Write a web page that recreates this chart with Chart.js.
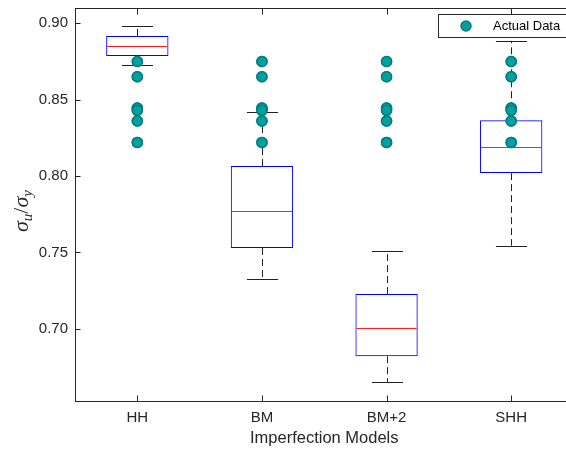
<!DOCTYPE html>
<html>
<head>
<meta charset="utf-8">
<script src="https://cdn.jsdelivr.net/npm/chart.js@4.4.1/dist/chart.umd.min.js"></script>
<style>
  html, body { margin: 0; padding: 0; background: #fff; overflow: hidden; }
  #wrap { width: 580px; height: 450px; }
</style>
</head>
<body>
<div id="wrap"><canvas id="boxChart" width="580" height="450"></canvas></div>
<script>
// imperfection models on the x axis
const categories = ['HH', 'BM', 'BM+2', 'SHH'];

// box plot stats
const q1 = [0.8785, 0.7529, 0.6820, 0.8019];
const q3 = [0.8917, 0.8065, 0.7227, 0.8365];
const medians = [0.8852, 0.7773, 0.7008, 0.8193];
const whiskerLow = [0.8726, 0.7327, 0.6650, 0.7544];
const whiskerHigh = [0.8980, 0.8421, 0.7507, 0.8885];

// measured values, same set shown at every model
const actualData = [0.875, 0.865, 0.8445, 0.8430, 0.836, 0.822];

const yTicks = [0.70, 0.75, 0.80, 0.85, 0.90];

const textColor = '#262626';
const fontFam = '"Liberation Sans", Arial, sans-serif';

let pointData = [];
for (var i = 0; i < categories.length; i++) {
    for (var j = 0; j < actualData.length; j++) {
        pointData.push({ x: categories[i], y: actualData[j] });
    }
}

// whiskers, caps, medians, frame, inward ticks, legend and y title
const boxExtras = {
    id: 'boxExtras',
    beforeDatasetsDraw(chart) {
        const ctx = chart.ctx;
        const xs = chart.scales.x;
        const ys = chart.scales.y;
        const halfBox = xs.width / categories.length * 0.25;
        const halfCap = halfBox / 2;
        ctx.save();
        for (var i = 0; i < categories.length; i++) {
            const cx = Math.round(xs.getPixelForValue(i)) + 0.5;
            // dashed whiskers
            ctx.strokeStyle = '#222';
            ctx.lineWidth = 1;
            ctx.setLineDash([7, 4]);
            ctx.beginPath();
            ctx.moveTo(cx, ys.getPixelForValue(q3[i]));
            ctx.lineTo(cx, ys.getPixelForValue(whiskerHigh[i]));
            ctx.moveTo(cx, ys.getPixelForValue(q1[i]));
            ctx.lineTo(cx, ys.getPixelForValue(whiskerLow[i]));
            ctx.stroke();
            // caps
            ctx.setLineDash([]);
            ctx.beginPath();
            const yh = Math.round(ys.getPixelForValue(whiskerHigh[i])) + 0.5;
            const yl = Math.round(ys.getPixelForValue(whiskerLow[i])) + 0.5;
            ctx.moveTo(cx - halfCap, yh);
            ctx.lineTo(cx + halfCap, yh);
            ctx.moveTo(cx - halfCap, yl);
            ctx.lineTo(cx + halfCap, yl);
            ctx.stroke();
        }
        ctx.restore();
    },
    afterDatasetsDraw(chart) {
        const ctx = chart.ctx;
        const xs = chart.scales.x;
        const ys = chart.scales.y;
        const halfBox = xs.width / categories.length * 0.25;
        ctx.save();
        ctx.strokeStyle = '#ff2020';
        ctx.lineWidth = 1;
        ctx.setLineDash([]);
        for (var i = 0; i < categories.length; i++) {
            const cx = xs.getPixelForValue(i);
            const ym = Math.round(ys.getPixelForValue(medians[i])) + 0.5;
            ctx.beginPath();
            ctx.moveTo(cx - halfBox + 1, ym);
            ctx.lineTo(cx + halfBox - 1, ym);
            ctx.stroke();
        }
        ctx.restore();
        // redraw points so they sit above medians
        chart.getDatasetMeta(0).controller.draw();
    },
    afterDraw(chart) {
        const ctx = chart.ctx;
        const area = chart.chartArea;
        const xs = chart.scales.x;
        const ys = chart.scales.y;
        ctx.save();
        ctx.strokeStyle = textColor;
        ctx.lineWidth = 1;
        const L = Math.round(area.left) + 0.5;
        const R = Math.round(area.right) + 0.5;
        const T = Math.round(area.top) + 0.5;
        const B = Math.round(area.bottom) + 0.5;
        ctx.strokeRect(L, T, R - L, B - T);
        ctx.beginPath();
        for (var i = 0; i < yTicks.length; i++) {
            const y = Math.round(ys.getPixelForValue(yTicks[i])) + 0.5;
            ctx.moveTo(L, y); ctx.lineTo(L + 5, y);
            ctx.moveTo(R, y); ctx.lineTo(R - 5, y);
        }
        for (var i = 0; i < categories.length; i++) {
            const x = Math.round(xs.getPixelForValue(i)) + 0.5;
            ctx.moveTo(x, B); ctx.lineTo(x, B - 6);
            ctx.moveTo(x, T); ctx.lineTo(x, T + 6);
        }
        ctx.stroke();

        // legend box
        const lx = 438.5, ly = 14.5, lw = 134, lh = 23;
        ctx.fillStyle = '#fff';
        ctx.fillRect(lx, ly, lw, lh);
        ctx.strokeStyle = '#262626';
        ctx.strokeRect(lx, ly, lw, lh);
        const ds = chart.data.datasets[0];
        ctx.beginPath();
        ctx.arc(466, 26, 5, 0, Math.PI * 2);
        ctx.fillStyle = ds.backgroundColor;
        ctx.fill();
        ctx.lineWidth = 1.5;
        ctx.strokeStyle = ds.borderColor;
        ctx.stroke();
        ctx.fillStyle = '#000';
        ctx.font = '13px ' + fontFam;
        ctx.textBaseline = 'middle';
        ctx.textAlign = 'left';
        ctx.fillText(ds.label, 493, 26.5);

        // y title  sigma_u / sigma_y
        const big = 'italic 22px "Liberation Serif", serif';
        const small = 'italic 15px "Liberation Serif", serif';
        const up = '22px "Liberation Serif", serif';
        const parts = [
            { t: '\u03C3', f: big, dy: 0 },
            { t: 'u', f: small, dy: 4 },
            { t: '/', f: up, dy: 0 },
            { t: '\u03C3', f: big, dy: 0 },
            { t: 'y', f: small, dy: 4 }
        ];
        let total = 0;
        parts.forEach(function (p) { ctx.font = p.f; p.w = ctx.measureText(p.t).width; total += p.w; });
        ctx.translate(28, 211);
        ctx.rotate(-Math.PI / 2);
        ctx.fillStyle = textColor;
        ctx.textBaseline = 'alphabetic';
        let px = -total / 2;
        parts.forEach(function (p) {
            ctx.font = p.f;
            ctx.fillText(p.t, px, p.dy);
            px += p.w;
        });
        ctx.restore();
    }
};

new Chart(document.getElementById('boxChart'), {
    data: {
        labels: categories,
        datasets: [
            {
                type: 'line',
                label: 'Actual Data',
                data: pointData,
                showLine: false,
                pointRadius: 5,
                pointHoverRadius: 5,
                pointBorderWidth: 1.5,
                backgroundColor: 'rgb(0,160,160)',
                borderColor: 'rgb(0,125,125)'
            },
            {
                type: 'bar',
                label: 'Box',
                data: categories.map(function (c, i) { return [q1[i], q3[i]]; }),
                backgroundColor: 'rgba(0,0,0,0)',
                borderColor: '#0000ff',
                borderWidth: 1,
                borderSkipped: false,
                barPercentage: 0.5,
                categoryPercentage: 1.0
            }
        ]
    },
    options: {
        responsive: false,
        animation: false,
        layout: { padding: { left: 0, top: 0, right: 6, bottom: 0 } },
        plugins: {
            legend: { display: false },
            tooltip: { enabled: false }
        },
        scales: {
            x: {
                type: 'category',
                offset: true,
                grid: { display: false, drawTicks: false },
                border: { display: false },
                ticks: {
                    color: textColor,
                    padding: 8,
                    font: { family: fontFam, size: 15 }
                },
                title: {
                    display: true,
                    text: 'Imperfection Models',
                    color: textColor,
                    padding: { top: 0, bottom: 2 },
                    font: { family: fontFam, size: 16.5 }
                },
                afterFit(scale) { scale.height = 49; scale.paddingLeft = 0; scale.paddingRight = 0; }
            },
            y: {
                min: 0.6527,
                max: 0.910,
                grid: { display: false, drawTicks: false },
                border: { display: false },
                afterBuildTicks(scale) {
                    scale.ticks = yTicks.map(function (v) { return { value: v }; });
                },
                ticks: {
                    color: textColor,
                    padding: 7,
                    font: { family: fontFam, size: 15 },
                    callback: function (v) { return Number(v).toFixed(2); }
                },
                afterFit(scale) { scale.width = 75; scale.paddingTop = 8; scale.paddingBottom = 0; }
            }
        }
    },
    plugins: [boxExtras]
});
</script>
</body>
</html>
